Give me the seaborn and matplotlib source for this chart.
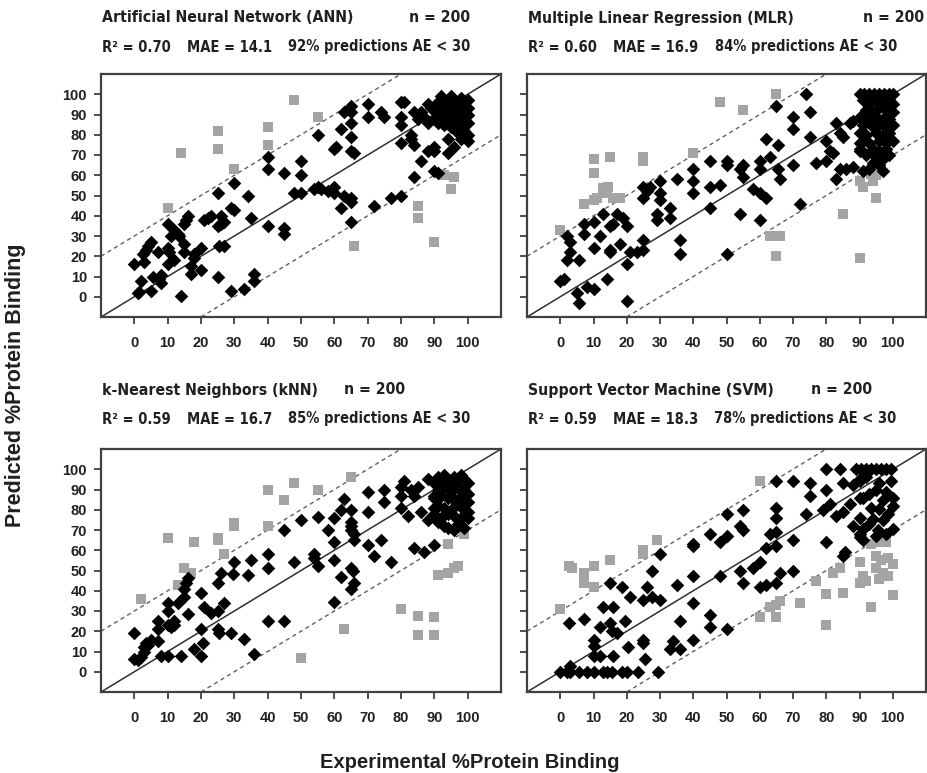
import pandas as pd
import matplotlib
matplotlib.use("Agg")
import matplotlib.pyplot as plt
from matplotlib import font_manager
import seaborn as sns

# --- data: (experimental, predicted) %protein binding ---
AE_LIMIT = 30

ANN_IN = [(0, 16), (1, 2), (1.5, 2.5), (2, 8), (2.5, 21), (3, 17), (3.5, 23), (4, 25), (5, 27), (5, 3),
          (5.5, 10), (7, 22), (7.5, 9), (8, 10.5), (8, 7), (10, 36), (10, 24), (10.5, 22), (10, 16), (11, 30),
          (12, 33), (12, 18), (13, 31), (13.5, 30), (14, 0.5), (15, 26), (15, 22), (15.5, 38), (16, 40), (15, 36),
          (17, 11), (17, 15), (18, 19), (18, 21), (20, 24), (20, 13), (21, 38), (22, 39), (23, 40), (25, 51),
          (25, 35), (25.5, 25), (25, 10), (26, 40), (27, 37), (26, 36), (27, 25), (29, 44), (30, 43), (30, 56),
          (29, 3), (33, 4), (34, 50), (35, 39), (36, 11), (36, 8), (40, 69), (40, 63), (40, 35), (45, 61),
          (45, 34), (45, 31), (48, 51), (50, 51), (50, 67), (50, 60), (54, 53), (55, 54), (56, 53), (55, 80),
          (58, 52), (60, 54), (60, 51), (60, 73), (60.5, 74), (62, 83), (62, 44), (63, 50), (63, 91), (65, 94),
          (65, 91), (65, 86), (65, 79), (65, 72), (66, 71), (65, 49), (65, 47), (65, 37), (70, 95), (70, 89),
          (72, 45), (74, 91), (75, 89), (77, 49), (80, 89), (80, 96), (81, 96), (80, 85), (80, 76), (80, 50),
          (83, 80), (83, 78), (84, 75), (84, 91), (84, 59), (85, 88), (86, 67), (87, 89), (88, 95), (88, 72),
          (90, 72), (90, 74), (90, 62), (91, 61), (94, 78), (94, 71), (96, 74), (98, 78), (100, 77),
          (90, 88), (90, 92), (91, 86), (91, 90), (92, 94), (92, 88), (93, 91), (93, 97), (94, 86), (94, 89),
          (94, 93), (95, 99), (95, 95), (95, 88), (96, 91), (96, 86), (96, 97), (97, 89), (97, 93), (97, 85),
          (98, 98), (98, 90), (98, 87), (99, 95), (99, 92), (99, 88), (100, 97), (100, 90), (100, 86), (100, 93),
          (91, 96), (93, 85), (95, 84), (97, 81), (99, 82), (100, 80), (92, 99), (89, 93), (88, 86), (86, 91)]
ANN_OUT = [(14, 71), (10, 44), (25, 82), (25, 73), (30, 63), (40, 84), (40, 75), (48, 97), (55, 89), (66, 25),
           (85, 45), (85, 39), (90, 27), (93, 60), (96, 59), (95, 53)]

MLR_IN = [(0, 8), (1, 9), (2, 30), (3, 27), (3, 22), (2, 18), (5.5, 18), (5, 2), (5.5, -3), (7, 36), (7, 31),
          (8, 5), (10, 37), (10, 24), (10, 4), (12, 30), (13, 41), (14, 9), (15, 35), (16, 36), (15, 23),
          (15, 22), (17, 41), (18, 26), (19, 39), (20, 35), (20, 16), (20, -2), (21, 22), (23, 22), (25, 23),
          (25, 28), (25, 54), (25, 49), (26, 52), (27, 54), (30, 57), (30, 51), (30, 48), (29, 41), (29, 38),
          (33, 44), (33, 39), (35, 58), (36, 28), (36, 21), (40, 63), (40, 57), (40, 51), (45, 67), (45, 54),
          (45, 44), (48, 55), (50, 67), (50, 65), (50, 21), (54, 63), (55, 65), (55, 59), (54, 41), (58, 53),
          (60, 51), (62, 49), (60, 67), (60, 63), (60, 38), (62, 78), (63, 69), (65, 94), (65.5, 75), (65.5, 63),
          (66, 58), (70, 89), (70, 83), (70, 65), (72, 46), (74, 100), (75, 91), (75, 79), (77, 66), (80, 77),
          (80, 67), (81, 72), (82, 71), (83, 86), (84, 81), (85, 79), (83, 58), (84, 63), (86, 63), (88, 64),
          (87, 86), (88, 87), (90, 72), (90, 76),
          (90, 100), (91.5, 100), (93, 100), (94.5, 100), (96, 100), (97.5, 100), (99, 100), (100, 100),
          (91, 97), (93, 95), (95, 97), (97, 96), (99, 97), (100, 95), (92, 92), (94, 91), (96, 93), (98, 92),
          (100, 91), (90, 89), (93, 88), (95, 89), (97, 88), (99, 88), (91, 85), (94, 84), (96, 85), (98, 84),
          (100, 85), (90, 81), (92, 80), (95, 81), (97, 80), (99, 81), (91, 77), (93, 76), (96, 77), (98, 76),
          (100, 77), (90, 73), (94, 73), (96, 72), (98, 73), (92, 70), (95, 69), (97, 68), (99, 70), (94, 66),
          (96, 65), (93, 63), (91, 62), (97, 62)]
MLR_OUT = [(0, 33), (10, 68), (10, 61), (15, 69), (7, 46), (10, 48), (11, 49), (13, 53.5), (14.5, 54), (14, 51),
           (16, 49), (18, 49), (25, 69), (25, 67), (40, 71), (48, 96), (55, 92), (65, 100), (63, 30), (66, 30),
           (65, 20), (85, 41), (90, 19), (90, 57), (91, 54), (94, 58), (95, 60), (93.5, 60.5), (95, 49), (94, 57)]

KNN_IN = [(0, 19), (0, 6.5), (1, 6), (2, 7.5), (3, 12), (3.5, 14), (4, 13), (5, 15.5), (3, 10), (7, 25),
          (7, 21), (7, 15), (8, 8), (10, 8), (10, 34), (10, 30), (10, 23), (11, 22), (12, 25), (12, 23), (13, 34),
          (14, 8), (15, 41), (15.5, 44), (16, 46.5), (15, 37), (16, 28.5), (18, 11), (20, 21), (20, 39),
          (20.5, 14), (20, 8), (21, 32), (23, 29), (25, 30), (25, 44), (26, 49), (25, 21), (25.5, 19), (27, 34),
          (29, 19), (29.5, 48.5), (30, 54), (33, 16), (34, 48), (35, 55), (36, 9), (40, 58), (40, 51), (40, 25),
          (45, 70), (45, 25), (48, 54), (50, 75), (54, 58), (54, 56), (55, 52), (55, 76.5), (58, 70), (60, 34.5),
          (60, 55), (60, 64), (60, 76), (62, 47), (62, 80), (63, 85.5), (65, 51), (65.5, 50), (65, 41), (66, 44),
          (65, 80), (65, 74), (65, 72), (65, 70), (66, 68), (66, 65), (70, 89), (70, 79), (70, 62.5), (72, 57),
          (74, 65), (75, 90), (75, 84), (77, 54), (80, 91), (80, 87), (80, 81), (81, 94), (82, 77), (84, 61),
          (83, 90), (84, 87), (85, 91), (86, 79), (87, 59), (88, 75), (88, 95), (90, 62.5), (90, 87), (90, 81),
          (90, 93), (91, 96), (92, 94), (93, 97), (94, 95), (95, 93), (96, 96), (97, 94), (98, 97), (99, 95),
          (100, 93), (91, 90), (93, 91), (95, 89), (97, 91), (99, 90), (100, 88), (90, 86), (92, 87), (94, 86),
          (96, 85), (98, 87), (100, 84), (91, 82), (93, 81), (95, 80), (97, 83), (99, 80), (90, 78), (92, 76),
          (94, 78), (96, 77), (98, 76), (100, 79), (91, 74), (93, 72), (94, 71), (96, 70), (97, 73), (99, 71),
          (100, 76)]
KNN_OUT = [(2, 36), (10, 66), (13, 43), (15, 51), (17, 49), (18, 64), (25, 66), (25, 65), (27, 58), (30, 72),
           (30, 73.5), (40, 90), (40, 72), (45, 85), (48, 93), (55, 90), (65, 96), (50, 7), (63, 21), (80, 31),
           (85, 27.5), (85, 18), (90, 27), (90, 18), (91, 48), (94, 49), (96, 51), (94, 63), (99, 68), (97, 52)]

SVM_IN = [(0, 0), (2, 0), (3, 0), (5.5, 0), (8, 0), (10, 0), (13, 0), (14, 0), (15.5, 0), (18.5, 0), (20, 0),
          (23.5, 0), (3, 3), (2.5, 24), (7, 26), (10, 15.5), (10, 8), (12, 8), (10, 12.5), (12, 22), (13, 32),
          (15, 24), (15.5, 20), (17, 19), (16, 32), (15, 44), (16, 8), (18.5, 42), (19.5, 25), (20.5, 12),
          (21, 37), (25, 35.5), (25, 15.5), (25.5, 6.5), (25, 14), (26, 42), (27.5, 37), (27.5, 50), (29.5, 0),
          (30, 35.5), (30, 58), (33, 11), (34, 15), (36, 11), (36, 25), (35, 43), (40, 63), (40, 62), (40, 47.5),
          (40, 34), (40, 15.5), (45, 68), (45, 28), (45, 22), (48, 64), (48, 47.5), (50, 78), (50, 67), (50, 21),
          (54, 72), (55, 70), (54, 50), (55, 44), (55, 80), (58, 51), (60, 54), (60, 42), (62, 43), (62, 61),
          (63, 68), (65, 69), (65, 94), (65, 81), (65, 76), (65, 62), (65, 44), (66, 49), (70, 94), (70, 65),
          (70, 50), (74, 78), (75, 93), (75, 87), (80, 100), (80, 90), (79, 80), (80, 64), (81, 83), (83, 77),
          (85, 79), (84, 100), (85, 93), (85, 57), (85.5, 59), (87, 83), (88, 72), (88, 92), (90, 95), (90, 86),
          (90, 76), (90, 68), (91, 65),
          (89, 100), (90.5, 100), (92, 100), (93.5, 100), (95, 100), (96.5, 100), (98, 100), (99.5, 100),
          (90, 94), (92, 96), (95, 90), (98, 89), (99.5, 94), (91, 86), (93, 88), (96, 93), (97, 85), (100, 86),
          (93.5, 81), (96, 80.5), (98.5, 78), (94, 75.6), (100, 82), (91, 70.6), (93, 73), (95.5, 70),
          (97, 74.7), (100, 70.6), (90, 66.6), (95, 67), (98, 68)]
SVM_OUT = [(0, 31), (2.5, 52), (3.5, 51), (7, 49), (7, 44), (10, 52), (10, 42), (15, 55), (25, 60), (25, 58),
           (29, 65), (60, 94), (60, 27), (63, 32), (65, 33), (66, 35), (65, 27), (72, 34), (77, 45), (80, 38.5),
           (80, 23), (82, 49), (84, 51), (85, 39), (90, 54), (90, 44), (91, 47.5), (92, 45), (93.5, 32),
           (93.5, 63), (95.5, 64), (98, 64), (95, 57), (96.5, 55), (98.5, 56), (95, 51), (97, 49), (98.5, 47.5),
           (96, 46), (100, 53), (100, 38)]

MODELS = ["Artificial Neural Network (ANN)", "Multiple Linear Regression (MLR)",
          "k-Nearest Neighbors (kNN)", "Support Vector Machine (SVM)"]
N_SAMPLES = [200, 200, 200, 200]
R2 = [0.70, 0.60, 0.59, 0.59]
MAE = [14.1, 16.9, 16.7, 18.3]
PCT_OK = [92, 84, 85, 78]
INSIDE = [ANN_IN, MLR_IN, KNN_IN, SVM_IN]
OUTSIDE = [ANN_OUT, MLR_OUT, KNN_OUT, SVM_OUT]

TICKS = list(range(0, 101, 10))

sns.set_style("white")
plt.rcParams["font.family"] = ["Liberation Sans", "DejaVu Sans"]


def pick_narrow_bold():
    # the panel headings use a narrow bold face; take one if it is installed
    for f in font_manager.fontManager.ttflist:
        name = f.name.lower()
        narrow = "narrow" in name or "condensed" in name or str(f.stretch) in ("condensed", "semi-condensed")
        if narrow and (f.weight in ("bold", 700) or str(f.weight) == "700"):
            return font_manager.FontProperties(fname=f.fname)
    return font_manager.FontProperties(family=["Liberation Sans", "DejaVu Sans"], weight="bold")


HEAD_FP = pick_narrow_bold()

W, H = 927, 773
PX2PT = 72 / 100
fig = plt.figure(figsize=(W / 100, H / 100), dpi=100)
renderer = fig.canvas.get_renderer()


def head_fp(size):
    fp = HEAD_FP.copy()
    fp.set_size(size)
    return fp


def text_width(s, size):
    t = fig.text(0.5, 0.5, s, fontproperties=head_fp(size))
    w = t.get_window_extent(renderer).width
    t.remove()
    return w


def fit_size(strings, target, gaps=0.0, size=12.0):
    # scale the font until the laid-out strings span the reference width
    for _ in range(5):
        w = sum(text_width(s, size) for s in strings)
        size *= (target - gaps) / w
    return size


GAP = 16
size1 = fit_size([MODELS[0]], 252)
size2 = fit_size([f"R² = {R2[0]:.2f}", f"MAE = {MAE[0]:.1f}",
                  f"{PCT_OK[0]}% predictions AE < {AE_LIMIT}"], 367, gaps=2 * GAP)

# axes boxes in pixels: left, top, width, height
boxes = [(101, 74, 400, 243), (527, 74, 399, 243), (101, 449, 400, 243), (527, 449, 399, 243)]
n_right = [369, 397, 304, 345]
title_dy = [(56, 27), (56, 27), (59, 30), (59, 30)]

for i, (l, t, w, h) in enumerate(boxes):
    ax = fig.add_axes([l / W, 1 - (t + h) / H, w / W, h / H])
    df_in = pd.DataFrame(INSIDE[i], columns=["exp", "pred"])
    df_out = pd.DataFrame(OUTSIDE[i], columns=["exp", "pred"])

    ax.axline((0, 0), slope=1, color="#303030", lw=1.1, zorder=1)
    for off in (AE_LIMIT, -AE_LIMIT):
        ax.axline((0, off), slope=1, color="#606060", lw=1.0, ls=(0, (3, 2.5)), zorder=1)

    sns.scatterplot(data=df_out, x="exp", y="pred", marker="s", color="#a4a4a4",
                    s=55, linewidth=0, ax=ax, zorder=2)
    sns.scatterplot(data=df_in, x="exp", y="pred", marker="D", color="black",
                    s=48, linewidth=0, ax=ax, zorder=3)

    ax.set_xlim(-10, 110)
    ax.set_ylim(-10, 110)
    ax.set_xticks(TICKS)
    ax.set_yticks(TICKS)
    ax.set_xlabel("")
    ax.set_ylabel("")
    ax.tick_params(axis="x", direction="out", length=5, width=1.2, color="#303030", pad=9,
                   labelsize=10.5, bottom=True)
    ax.tick_params(axis="y", direction="out", length=5, width=1.2, color="#303030", pad=5,
                   labelsize=10.5, left=True)
    for lab in ax.get_xticklabels() + ax.get_yticklabels():
        lab.set_fontweight("bold")
        lab.set_color("#202020")
    if i % 2 == 1:
        ax.set_yticklabels([])
    for sp in ax.spines.values():
        sp.set_color("#404040")
        sp.set_linewidth(1.6)

    # heading line 1: model name, sample count right-aligned as in the reference
    dy1, dy2 = title_dy[i]
    ax.annotate(MODELS[i], xy=(0, 1), xycoords="axes fraction", xytext=(1, dy1 * PX2PT),
                textcoords="offset points", ha="left", va="center", fontproperties=head_fp(size1),
                color="#202020")
    ax.annotate(f"n = {N_SAMPLES[i]}", xy=(0, 1), xycoords="axes fraction",
                xytext=(n_right[i] * PX2PT, dy1 * PX2PT), textcoords="offset points",
                ha="right", va="center", fontproperties=head_fp(size1), color="#202020")

    # heading line 2: statistics, laid out segment by segment
    segs = [f"R² = {R2[i]:.2f}", f"MAE = {MAE[i]:.1f}", f"{PCT_OK[i]}% predictions AE < {AE_LIMIT}"]
    x = 0
    for s in segs:
        ax.annotate(s, xy=(0, 1), xycoords="axes fraction", xytext=(1 + x * PX2PT, dy2 * PX2PT),
                    textcoords="offset points", ha="left", va="center", fontproperties=head_fp(size2),
                    color="#202020")
        x += text_width(s, size2) + GAP

fig.text(470 / W, 1 - 762 / H, "Experimental %Protein Binding", ha="center", va="center",
         fontsize=14.5, fontweight="bold", color="#202020")
fig.text(16 / W, 1 - 385 / H, "Predicted %Protein Binding", ha="center", va="center",
         rotation=90, fontsize=15.5, fontweight="bold", color="#202020")

fig.savefig("out.png", dpi=100, facecolor="white")
